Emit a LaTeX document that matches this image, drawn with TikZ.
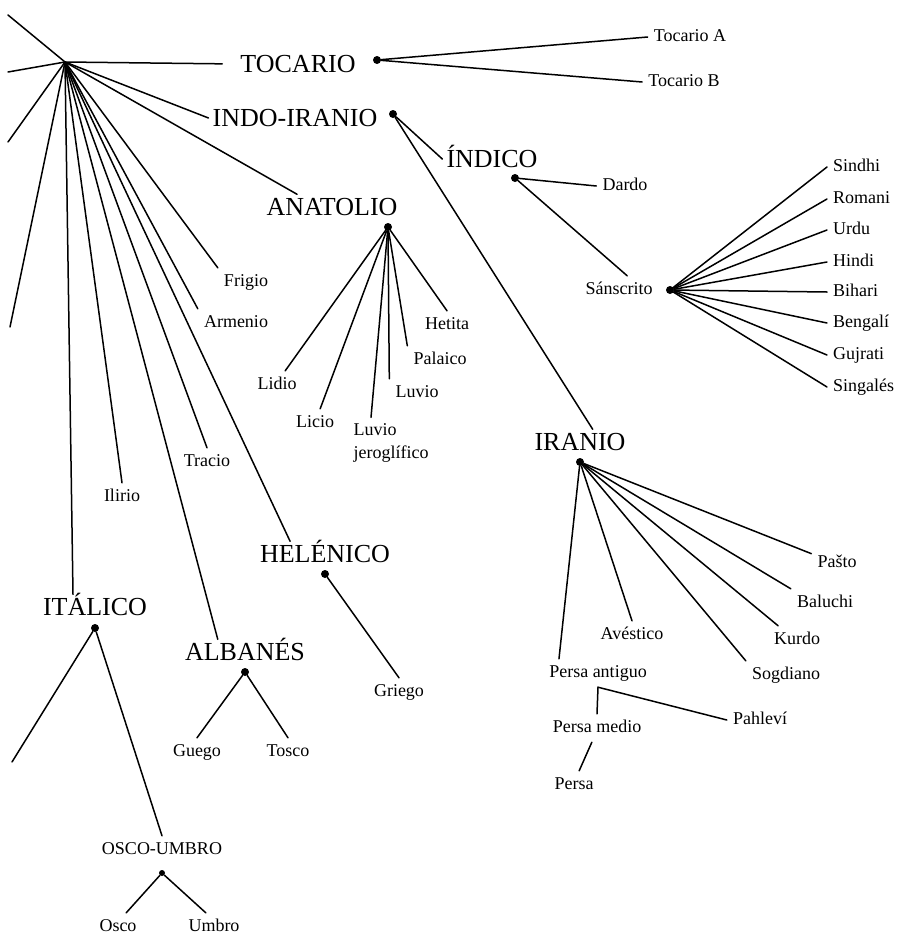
\documentclass[tikz,border=0pt]{standalone}
\usepackage{fontspec}
\setmainfont{Liberation Serif}
\tikzset{
  grupo/.style={inner sep=4pt, text height=17pt, text depth=0pt, font=\fontsize{26}{28}\selectfont},
  lengua/.style={inner sep=6pt, text height=12pt, text depth=4pt, font=\fontsize{18}{21}\selectfont},
  nudo/.style={circle, fill=black, inner sep=0pt, minimum size=8pt},
  rama/.style={line width=1.5pt, line cap=round},
}

\begin{document}
\begin{tikzpicture}[x=1pt, y=-1pt]
    \useasboundingbox (0,0) rectangle (898,937);

    % ramas principales
    \coordinate (hub) at (65,62);
    \coordinate (ie1) at (8,15);
    \coordinate (ie2) at (8,72);
    \coordinate (ie3) at (8,142);
    \coordinate (ie4) at (10,327);
    \coordinate (ital1) at (12,762);

    \node[grupo] (tocario) at (298,64) {TOCARIO};
    \node[grupo] (indo) at (295,118) {INDO-IRANIO};
    \node[grupo] (anatolio) at (332,207) {ANATOLIO};
    \node[grupo] (indico) at (492,159) {ÍNDICO};
    \node[grupo] (iranio) at (580,442) {IRANIO};
    \node[grupo] (helenico) at (325,554) {HELÉNICO};
    \node[grupo] (italico) at (95,607) {ITÁLICO};
    \node[grupo] (albanes) at (245,652) {ALBANÉS};
    \node[lengua] (oscoumbro) at (162,850) {OSCO-UMBRO};

    % nudos
    \node[nudo] (tocdot) at (377,60) {};
    \node[nudo] (indodot) at (393,114) {};
    \node[nudo] (anadot) at (388,227) {};
    \node[nudo] (indicodot) at (515,178) {};
    \node[nudo] (sansdot) at (670,290) {};
    \node[nudo] (irandot) at (580,462) {};
    \node[nudo] (heldot) at (325,574) {};
    \node[nudo] (italdot) at (95,628) {};
    \node[nudo] (albdot) at (245,672) {};
    \node[nudo, minimum size=6pt] (oudot) at (162,873) {};

    % lenguas
    \node[lengua] (tocA) at (690,37) {Tocario A};
    \node[lengua] (tocB) at (684,82) {Tocario B};
    \node[lengua] (dardo) at (625,186) {Dardo};
    \node[lengua] (sanscrito) at (619,290) {Sánscrito};
    \node[lengua] (frigio) at (246,282) {Frigio};
    \node[lengua] (armenio) at (236,323) {Armenio};
    \node[lengua] (tracio) at (207,462) {Tracio};
    \node[lengua] (ilirio) at (122,497) {Ilirio};
    \node[lengua] (lidio) at (277,385) {Lidio};
    \node[lengua] (licio) at (315,423) {Licio};
    \node[inner sep=6pt, align=left, font=\fontsize{18}{23}\selectfont] (luvjer) at (391,443) {Luvio\\jeroglífico};
    \node[lengua] (luvio) at (417,393) {Luvio};
    \node[lengua] (palaico) at (440,360) {Palaico};
    \node[lengua] (hetita) at (447,325) {Hetita};
    \node[lengua] (griego) at (399,692) {Griego};
    \node[lengua] (guego) at (197,752) {Guego};
    \node[lengua] (tosco) at (288,752) {Tosco};
    \node[lengua] (osco) at (118,927) {Osco};
    \node[lengua] (umbro) at (214,927) {Umbro};
    \node[lengua] (pantiguo) at (598,673) {Persa antiguo};
    \node[lengua] (avestico) at (632,635) {Avéstico};
    \node[lengua] (sogdiano) at (786,675) {Sogdiano};
    \node[lengua] (kurdo) at (797,640) {Kurdo};
    \node[lengua] (baluchi) at (825,603) {Baluchi};
    \node[lengua] (pasto) at (837,563) {Pašto};
    \node[lengua] (pahlevi) at (760,720) {Pahleví};
    \node[lengua] (pmedio) at (597,728) {Persa medio};
    \node[lengua] (persa) at (574,785) {Persa};

    \foreach \d in {ie1,ie2,ie3,ie4}
        \draw[rama] (hub) -- (\d);
    \draw[rama, shorten >=14pt] (hub) -- (tocario.west);
    \foreach \d in {indo.west, anatolio.160, frigio.north west, armenio.north west, helenico.160, tracio.north, albanes.155, ilirio.north, italico.150}
        \draw[rama] (hub) -- (\d);

    \draw[rama] (tocdot) -- (tocA.west);
    \draw[rama] (tocdot) -- (tocB.west);
    \draw[rama] (indodot) -- (indico.west);
    \draw[rama] (indodot) -- (iranio.45);
    \draw[rama] (indicodot) -- (dardo.west);
    \draw[rama] (indicodot) -- (sanscrito.60);

    % abanico del sanscrito
    \foreach \t/\y [count=\i] in {Sindhi/167, Romani/199, Urdu/230, Hindi/262, Bihari/292, Bengalí/323, Gujrati/355, Singalés/387} {
        \node[lengua, anchor=west] (sans\i) at (827,\y) {\t};
        \draw[rama] (sansdot) -- (sans\i.west);
    }

    \foreach \d in {lidio.60, licio.70, luvjer.128, luvio.north west, palaico.north west, hetita.north}
        \draw[rama] (anadot) -- (\d);

    \draw[rama] (heldot) -- (griego.north);
    \draw[rama] (italdot) -- (ital1);
    \draw[rama] (italdot) -- (oscoumbro.north);
    \draw[rama] (oudot) -- (osco.60);
    \draw[rama] (oudot) -- (umbro.120);
    \draw[rama] (albdot) -- (guego.north);
    \draw[rama] (albdot) -- (tosco.north);

    \foreach \d in {pantiguo.160, avestico.north, sogdiano.north west, kurdo.143, baluchi.north west, pasto.160}
        \draw[rama] (irandot) -- (\d);
    \draw[rama] (pmedio.north) -- (pantiguo.south) -- (pahlevi.west);
    \draw[rama] (pmedio.250) -- (persa.70);
\end{tikzpicture}
\end{document}
